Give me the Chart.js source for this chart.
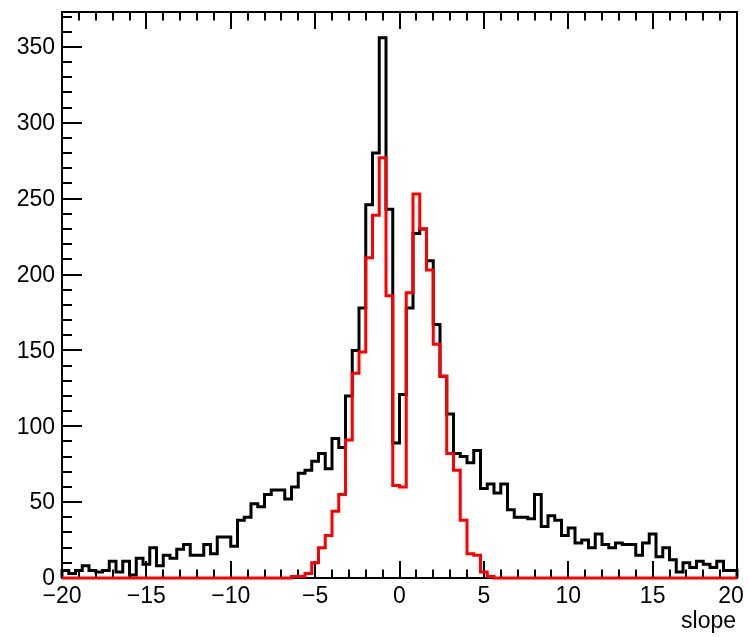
<!DOCTYPE html>
<html>
<head>
<meta charset="utf-8">
<script src="https://cdn.jsdelivr.net/npm/chart.js@4"></script>
<style>
  html, body { margin: 0; padding: 0; background: #fff; }
  canvas { display: block; }
</style>
</head>
<body>
<canvas id="canvas" width="750" height="637"></canvas>
<script>
// binning of the slope histograms
const binLo = -20;
const binWidth = 0.4;

// all tracks
const blackCounts = [
  5, 3, 5, 8, 5, 4, 5, 11, 4, 11,
  2, 13, 9, 20, 8, 15, 13, 19, 22, 15,
  15, 22, 16, 27, 27, 21, 38, 40, 49, 47,
  55, 58, 58, 52, 60, 69, 71, 77, 82, 72,
  92, 86, 120, 150, 178, 246, 280, 356, 243, 89,
  121, 178, 227, 230, 209, 167, 133, 108, 82, 80,
  76, 84, 59, 62, 56, 62, 45, 40, 40, 39,
  55, 34, 41, 38, 28, 33, 23, 25, 20, 29,
  22, 20, 23, 22, 22, 15, 23, 29, 14, 20,
  12, 4, 10, 7, 11, 9, 7, 11, 5, 5
];

// selected tracks
const redCounts = [
  0, 0, 0, 0, 0, 0, 0, 0, 0, 0,
  0, 0, 0, 0, 0, 0, 0, 0, 0, 0,
  0, 0, 0, 0, 0, 0, 0, 0, 0, 0,
  0, 0, 0, 0, 1, 1, 3, 10, 20, 28,
  44, 55, 91, 135, 149, 211, 239, 277, 186, 61,
  60, 188, 253, 230, 203, 154, 133, 82, 71, 38,
  16, 15, 4, 1, 0, 0, 0, 0, 0, 0,
  0, 0, 0, 0, 0, 0, 0, 0, 0, 0,
  0, 0, 0, 0, 0, 0, 0, 0, 0, 0,
  0, 0, 0, 0, 0, 0, 0, 0, 0, 0
];

const xTicks = [-20, -15, -10, -5, 0, 5, 10, 15, 20];
const yTicks = [0, 50, 100, 150, 200, 250, 300, 350];
const yMax = 373;

const FONT = '23px "Liberation Sans", Arial, Helvetica, sans-serif';

// outline points: one per bin left edge, closed to zero at both ends
function histPoints(counts) {
  const pts = [{ x: binLo, y: 0 }];
  counts.forEach(function (c, i) {
    pts.push({ x: binLo + i * binWidth, y: c });
  });
  const hi = binLo + counts.length * binWidth;
  pts.push({ x: hi, y: counts[counts.length - 1] });
  pts.push({ x: hi, y: 0 });
  return pts;
}

function fmt(v) {
  return v < 0 ? '\u2212' + Math.abs(v) : String(v);
}

// frame, ticks and labels in the old ROOT style
const framePlugin = {
  id: 'frame',
  beforeDatasetsDraw(chart) {
    const ctx = chart.ctx;
    const a = chart.chartArea;
    const xs = chart.scales.x;
    const ys = chart.scales.y;
    ctx.save();
    ctx.strokeStyle = '#000';
    ctx.lineWidth = 2;
    ctx.strokeRect(a.left, a.top, a.right - a.left, a.bottom - a.top);

    ctx.beginPath();
    // x ticks, bottom and top
    for (let v = xs.min; v <= xs.max; v += 1) {
      const px = Math.round(xs.getPixelForValue(v));
      const len = v % 5 === 0 ? 17 : 8.5;
      ctx.moveTo(px, a.bottom);
      ctx.lineTo(px, a.bottom - len);
      ctx.moveTo(px, a.top);
      ctx.lineTo(px, a.top + len);
    }
    // y ticks on the left
    for (let v = 0; v <= ys.max; v += 10) {
      const py = Math.round(ys.getPixelForValue(v));
      const len = v % 50 === 0 ? 20 : 10;
      ctx.moveTo(a.left, py);
      ctx.lineTo(a.left + len, py);
    }
    ctx.stroke();
    ctx.restore();
  },
  afterDraw(chart) {
    const ctx = chart.ctx;
    const a = chart.chartArea;
    const xs = chart.scales.x;
    const ys = chart.scales.y;
    ctx.save();
    ctx.fillStyle = '#000';
    ctx.font = FONT;
    ctx.textAlign = 'right';
    ctx.textBaseline = 'middle';
    yTicks.forEach(function (v) {
      ctx.fillText(fmt(v), a.left - 7, ys.getPixelForValue(v) + 1);
    });
    ctx.textAlign = 'center';
    ctx.textBaseline = 'top';
    xTicks.forEach(function (v) {
      let px = xs.getPixelForValue(v);
      if (v === xs.max) px -= 6;
      ctx.fillText(fmt(v), px, a.bottom + 7);
    });
    ctx.textAlign = 'right';
    ctx.fillText('slope', a.right - 1, a.bottom + 32);
    ctx.restore();
  }
};

const data = {
  datasets: [
    {
      label: 'selected',
      data: histPoints(redCounts),
      borderColor: '#ff0000',
      borderWidth: 3,
      stepped: true,
      pointRadius: 0,
      fill: false,
      clip: false,
      borderJoinStyle: 'miter'
    },
    {
      label: 'all',
      data: histPoints(blackCounts),
      borderColor: '#000000',
      borderWidth: 3,
      stepped: true,
      pointRadius: 0,
      fill: false,
      clip: false,
      borderJoinStyle: 'miter'
    }
  ]
};

const config = {
  type: 'line',
  data,
  options: {
    responsive: false,
    animation: false,
    layout: { padding: { left: 62, right: 13, top: 12, bottom: 59 } },
    plugins: { legend: { display: false }, tooltip: { enabled: false } },
    scales: {
      x: { type: 'linear', min: -20, max: 20, display: false },
      y: { type: 'linear', min: 0, max: yMax, display: false }
    }
  },
  plugins: [framePlugin]
};

let myChart = new Chart(document.getElementById('canvas'), config);
</script>
</body>
</html>
